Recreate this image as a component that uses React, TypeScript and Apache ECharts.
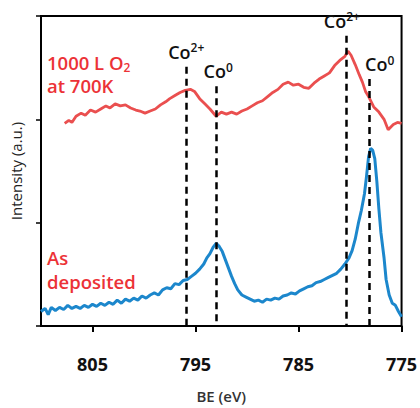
import React, { useEffect, useRef } from "react";
import * as echarts from "echarts";

const xTicks = [775, 785, 795, 805];
const oxidized: [number, number][] = [
  [807.7, 1.96], [807.3, 1.99], [807.0, 1.97], [806.6, 2.03], [806.1, 2.06], [805.7, 2.04], [805.2, 2.09],
  [804.7, 2.07], [804.2, 2.1], [803.7, 2.13], [803.3, 2.11], [802.8, 2.15], [802.3, 2.13], [801.8, 2.14],
  [801.3, 2.11], [800.8, 2.09], [800.4, 2.08], [799.9, 2.06], [799.4, 2.08], [798.9, 2.1], [798.4, 2.14],
  [797.9, 2.17], [797.5, 2.2], [797.0, 2.23], [796.5, 2.26], [796.0, 2.28], [795.5, 2.29], [795.1, 2.27],
  [794.6, 2.2], [794.1, 2.15], [793.6, 2.1], [793.0, 2.03], [792.5, 2.07], [792.0, 2.05], [791.5, 2.07],
  [791.0, 2.05], [790.5, 2.08], [790.0, 2.1], [789.5, 2.13], [789.0, 2.16], [788.5, 2.18], [788.0, 2.22],
  [787.5, 2.26], [787.0, 2.29], [786.5, 2.34], [786.0, 2.36], [785.5, 2.33], [785.0, 2.34], [784.5, 2.31],
  [784.0, 2.3], [783.5, 2.35], [783.0, 2.39], [782.5, 2.42], [782.0, 2.45], [781.5, 2.52], [781.0, 2.57],
  [780.5, 2.61], [780.2, 2.66], [779.9, 2.62], [779.5, 2.53], [779.1, 2.43], [778.8, 2.36], [778.5, 2.27],
  [778.2, 2.22], [777.7, 2.12], [777.2, 2.07], [776.7, 2.0], [776.3, 1.9], [775.8, 1.95], [775.4, 1.97],
  [775.0, 1.96],
];
const asDeposited: [number, number][] = [
  [810, 0.14], [809.6, 0.17], [809.3, 0.11], [809.0, 0.18], [808.6, 0.15], [808.2, 0.18], [807.8, 0.16],
  [807.4, 0.2], [807.0, 0.17], [806.6, 0.19], [806.2, 0.17], [805.8, 0.2], [805.4, 0.18], [805.0, 0.21],
  [804.6, 0.19], [804.2, 0.22], [803.8, 0.2], [803.4, 0.23], [803.0, 0.21], [802.6, 0.25], [802.2, 0.22],
  [801.8, 0.26], [801.4, 0.24], [801.0, 0.27], [800.6, 0.25], [800.2, 0.29], [799.8, 0.27], [799.4, 0.3],
  [799.0, 0.32], [798.6, 0.3], [798.2, 0.35], [797.8, 0.37], [797.4, 0.36], [797.0, 0.41], [796.6, 0.4],
  [796.2, 0.44], [795.8, 0.45], [795.4, 0.48], [795.0, 0.51], [794.6, 0.55], [794.2, 0.6], [793.9, 0.66],
  [793.6, 0.7], [793.3, 0.76], [793.0, 0.8], [792.7, 0.77], [792.4, 0.72], [792.1, 0.64], [791.8, 0.56],
  [791.5, 0.48], [791.2, 0.41], [790.9, 0.35], [790.5, 0.3], [790.1, 0.28], [789.7, 0.26], [789.3, 0.24],
  [788.9, 0.25], [788.5, 0.23], [788.1, 0.26], [787.7, 0.25], [787.3, 0.27], [786.9, 0.26], [786.5, 0.29],
  [786.1, 0.3], [785.7, 0.32], [785.3, 0.31], [784.9, 0.34], [784.5, 0.36], [784.1, 0.38], [783.7, 0.39],
  [783.3, 0.42], [782.9, 0.43], [782.5, 0.45], [782.1, 0.47], [781.7, 0.49], [781.3, 0.51], [780.9, 0.55],
  [780.5, 0.6], [780.1, 0.66], [779.8, 0.73], [779.5, 0.84], [779.2, 0.99], [778.9, 1.12], [778.6, 1.28],
  [778.4, 1.45], [778.2, 1.64], [778.0, 1.72], [777.8, 1.7], [777.6, 1.62], [777.4, 1.4], [777.2, 1.13],
  [777.0, 0.9], [776.7, 0.66], [776.5, 0.45], [776.2, 0.3], [775.9, 0.22], [775.6, 0.2], [775.3, 0.14],
  [775.0, 0.09],
];
const peakNames = ["{a|Co}{s|2+}", "{a|Co}{s|0}", "{a|Co}{s|2+}", "{a|Co}{s|0}"];
const peakBE = [795.9, 793.0, 780.4, 778.1];
const peakTop = [2.51, 2.32, 2.81, 2.39];
const peakLabelShift = [0, 2, -4, 10];

export default function App() {
  const ref = useRef<HTMLDivElement>(null);
  useEffect(() => {
    if (!ref.current) return;
    document.body.style.margin = "0";
    const chart = echarts.init(ref.current, null, { renderer: "svg" });
    const font = "'Open Sans', Lato, sans-serif";
    const red = "#ec3237";
    chart.setOption({
      animation: false,
      grid: { left: 40, right: 17, top: 16, bottom: 75, show: true, borderColor: "#000", borderWidth: 2 },
      xAxis: {
        type: "value",
        inverse: true,
        min: 775,
        max: 810,
        interval: 10,
        name: "BE (eV)",
        nameLocation: "middle",
        nameGap: 62,
        nameTextStyle: { fontFamily: font, fontSize: 15, fontWeight: 600, color: "#333" },
        axisLine: { lineStyle: { color: "#000", width: 2 } },
        axisTick: { inside: false, length: 6, lineStyle: { color: "#000", width: 2 } },
        axisLabel: {
          showMaxLabel: false,
          margin: 29,
          fontFamily: font,
          fontSize: 18,
          fontWeight: "bold",
          color: "#111",
          formatter: (v: number) => (xTicks.includes(v) ? String(v) : ""),
        },
        splitLine: { show: false },
      },
      yAxis: {
        type: "value",
        min: 0,
        max: 3,
        interval: 1,
        name: "Intensity (a.u.)",
        nameLocation: "middle",
        nameGap: 18,
        nameTextStyle: { fontFamily: font, fontSize: 15, color: "#222" },
        axisLine: { lineStyle: { color: "#000", width: 2 } },
        axisTick: { inside: false, length: 5, lineStyle: { color: "#000", width: 1.5 } },
        axisLabel: { show: false },
        splitLine: { show: false },
      },
      series: [
        {
          type: "line",
          data: oxidized,
          showSymbol: false,
          lineStyle: { color: "#ea4f4f", width: 2.8 },
          z: 3,
        },
        {
          type: "line",
          data: asDeposited,
          showSymbol: false,
          lineStyle: { color: "#1c87cc", width: 3 },
          z: 3,
          markLine: {
            silent: true,
            symbol: "none",
            lineStyle: { color: "#000", type: [7, 5], width: 2.5 },
            data: peakBE.map((be, i) => [
              {
                coord: [be, peakTop[i]],
                label: {
                  show: true,
                  position: "start",
                  formatter: peakNames[i],
                  offset: [peakLabelShift[i], 0],
                  rich: {
                    a: { fontFamily: font, fontSize: 18, fontWeight: 600, color: "#111" },
                    s: { fontFamily: font, fontSize: 12, fontWeight: 600, color: "#111", verticalAlign: "top", padding: [0, 0, 8, 0] },
                  },
                },
              },
              { coord: [be, 0] },
            ]),
          },
        },
      ],
      graphic: [
        {
          type: "text",
          left: 47,
          top: 53,
          style: {
            text: "{a|1000 L O}{s|2}",
            rich: {
              a: { fontFamily: font, fontSize: 18.5, fontWeight: 600, fill: red },
              s: { fontFamily: font, fontSize: 12, fontWeight: 600, fill: red, padding: [9, 0, 0, 0] },
            },
          },
        },
        {
          type: "text",
          left: 47,
          top: 76,
          style: { text: "at 700K", font: `600 18.5px ${font}`, fill: red },
        },
        {
          type: "text",
          left: 47,
          top: 248,
          style: { text: "As", font: `600 18.5px ${font}`, fill: red },
        },
        {
          type: "text",
          left: 47,
          top: 272,
          style: { text: "deposited", font: `600 18.5px ${font}`, fill: red },
        },
      ],
    });
    return () => chart.dispose();
  }, []);
  return <div ref={ref} style={{ width: 420, height: 408, position: "absolute", left: 0, top: 0 }} />;
}
